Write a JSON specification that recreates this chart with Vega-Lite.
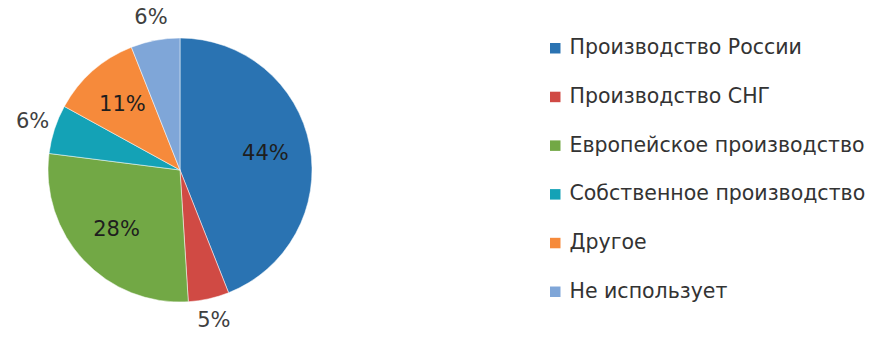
{
  "$schema": "https://vega.github.io/schema/vega-lite/v6.json",
  "width": 360,
  "height": 340,
  "padding": 0,
  "background": "white",
  "config": {"view": {"stroke": null}, "font": "DejaVu Sans"},
  "data": {"values": [
    {"cat": "Производство России", "share": 0.44, "idx": 1},
    {"cat": "Производство СНГ", "share": 0.05, "idx": 2},
    {"cat": "Европейское производство", "share": 0.28, "idx": 3},
    {"cat": "Собственное производство", "share": 0.06, "idx": 4},
    {"cat": "Другое", "share": 0.11, "idx": 5},
    {"cat": "Не использует", "share": 0.06, "idx": 6}
  ]},
  "encoding": {
    "theta": {"field": "share", "type": "quantitative", "stack": true},
    "order": {"field": "idx", "type": "quantitative"}
  },
  "layer": [
    {
      "mark": {"type": "arc", "outerRadius": 132, "stroke": "white", "strokeWidth": 0.5},
      "encoding": {
        "color": {
          "field": "cat", "type": "nominal", "sort": null,
          "scale": {
            "domain": ["Производство России", "Производство СНГ", "Европейское производство", "Собственное производство", "Другое", "Не использует"],
            "range": ["#2A73B2", "#D04A44", "#72A845", "#14A2B6", "#F68A3B", "#7FA6D8"]
          },
          "legend": {
            "title": null, "orient": "none", "legendX": 545, "legendY": 38,
            "symbolType": "square", "symbolSize": 110, "symbolStrokeWidth": 0,
            "labelFontSize": 20.5, "labelFont": "DejaVu Sans", "labelColor": "#333333",
            "labelOffset": 4, "rowPadding": 27.7, "labelLimit": 400
          }
        }
      }
    },
    {
      "mark": {"type": "text", "radius": 87, "fontSize": 21, "fill": "#1e1e1e", "font": "DejaVu Sans"},
      "encoding": {
        "text": {"condition": {"test": "datum.share > 0.1", "field": "share", "type": "quantitative", "format": ".0%"}, "value": ""}
      }
    },
    {
      "mark": {"type": "text", "radius": 155, "fontSize": 21, "fill": "#404040", "font": "DejaVu Sans"},
      "encoding": {
        "text": {"condition": {"test": "datum.share <= 0.1", "field": "share", "type": "quantitative", "format": ".0%"}, "value": ""}
      }
    }
  ]
}
